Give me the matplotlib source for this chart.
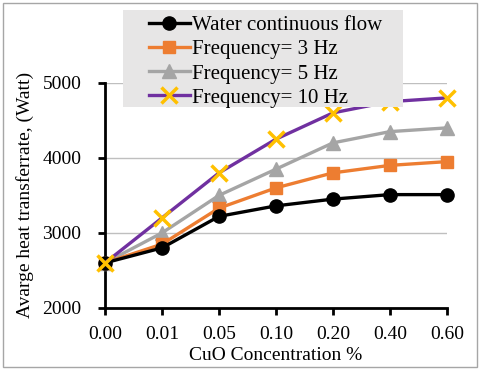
import matplotlib.pyplot as plt
from matplotlib.patches import Rectangle

plt.rcParams["font.family"] = ["Liberation Serif", "DejaVu Serif"]

conc = ["0.00", "0.01", "0.05", "0.10", "0.20", "0.40", "0.60"]
water = [2600, 2800, 3220, 3360, 3450, 3510, 3510]
f3 = [2600, 2850, 3330, 3600, 3800, 3900, 3950]
f5 = [2600, 3000, 3500, 3850, 4200, 4350, 4400]
f10 = [2600, 3200, 3800, 4250, 4600, 4750, 4800]

x = list(range(len(conc)))

fig = plt.figure(figsize=(4.8, 3.7), dpi=100)
ax = fig.add_axes([0.219, 0.168, 0.712, 0.608])

ax.grid(axis="y", color="#BFBFBF", lw=1)
ax.set_axisbelow(True)

ax.plot(x, water, color="black", lw=2.4, marker="o", ms=9.5, label="Water continuous flow", clip_on=False, zorder=5)
ax.plot(x, f3, color="#ED7D31", lw=2.4, marker="s", ms=9, label="Frequency= 3 Hz", clip_on=False, zorder=4)
ax.plot(x, f5, color="#A5A5A5", lw=2.4, marker="^", ms=9.5, label="Frequency= 5 Hz", clip_on=False, zorder=3)
ax.plot(x, f10, color="#7030A0", lw=2.4, marker="x", ms=11, mew=2.5, mec="#FFC000",
        label="Frequency= 10 Hz", clip_on=False, zorder=6)

ax.set_xlim(0, 6)
ax.set_ylim(2000, 5000)
ax.set_yticks([2000, 3000, 4000, 5000])
ax.set_xticks(x)
ax.set_xticklabels(conc)
ax.tick_params(labelsize=14, width=2, length=5, direction="out")
ax.tick_params(axis="y", pad=12)
ax.tick_params(axis="x", pad=8)
for s in ["top", "right"]:
    ax.spines[s].set_visible(False)
for s in ["left", "bottom"]:
    ax.spines[s].set_linewidth(2)

ax.set_xlabel("CuO Concentration %", fontsize=14, labelpad=3)
ax.set_ylabel("Avarge heat transferrate, (Watt)", fontsize=14, labelpad=6)

# legend background box, drawn above the plot area
fig.patches.append(Rectangle((123 / 480, 1 - 107 / 370), 280 / 480, 97 / 370, transform=fig.transFigure,
                             facecolor="#E7E6E6", edgecolor="none", zorder=9))
leg = fig.legend(loc="upper left", bbox_to_anchor=(134 / 480, 1 - 1 / 370), fontsize=15,
                 frameon=False, handlelength=2.0, handletextpad=0.1, labelspacing=0.22, borderpad=0.2)
leg.set_zorder(10)

fig.patches.append(Rectangle((0.006, 0.008), 0.988, 0.984, transform=fig.transFigure,
                             fill=False, edgecolor="#A6A6A6", lw=1))

plt.savefig("out.png", dpi=100)
